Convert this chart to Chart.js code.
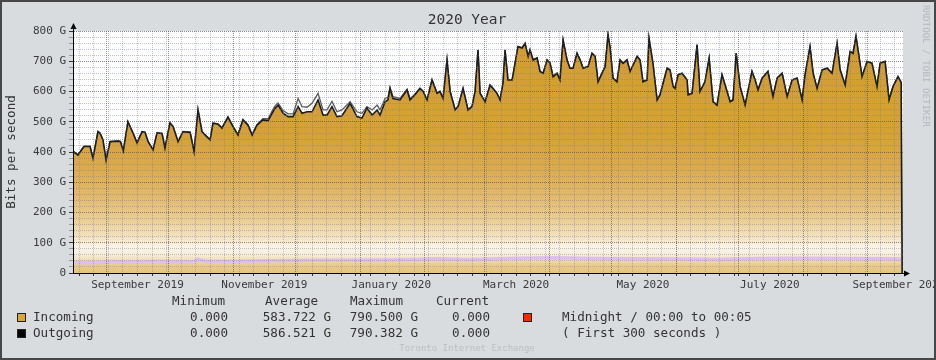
<!DOCTYPE html>
<html lang="en">
<head>
<meta charset="UTF-8">
<title>2020 Year</title>
<script src="https://cdn.jsdelivr.net/npm/chart.js"></script>
<style>
  html, body { margin: 0; padding: 0; background: #d8dcdf; }
  #wrap { width: 936px; height: 360px; }
</style>
</head>
<body>
<div id="wrap"><canvas id="trafficChart" width="936" height="360"></canvas></div>
<script>
// x = days since 16 Aug 2019, values in Gbit/s
const days = [
  0, 2.4, 5.3, 8.2, 9.6, 12.0, 13.0, 14.4, 15.9, 17.8,
  21.6, 22.8, 24.2, 26.4, 28.8, 30.8, 33.2, 34.6, 36.1, 38.5,
  40.4, 42.8, 44.2, 46.6, 48.1, 50.5, 52.9, 56.3, 58.2, 60.1,
  62.0, 64.4, 65.9, 67.3, 69.7, 71.6, 74.5, 76.9, 79.3, 81.7,
  84.1, 86.1, 88.5, 91.3, 93.8, 95.7, 97.1, 98.6, 101.0, 103.4,
  105.8, 108.2, 110.1, 112.5, 114.9, 117.8, 120.2, 122.1, 124.5, 126.9,
  129.3, 133.2, 136.5, 138.9, 141.3, 143.8, 146.2, 147.6, 150.0, 151.4,
  152.4, 153.8, 157.2, 160.6, 162.0, 164.4, 166.8, 168.3, 170.2, 172.6,
  175.0, 176.4, 177.9, 179.8, 181.3, 183.7, 185.1, 187.5, 189.9, 191.8,
  193.3, 194.7, 195.7, 198.1, 200.5, 201.9, 203.8, 205.3, 206.7, 207.7,
  209.1, 211.1, 212.5, 213.9, 215.9, 217.3, 218.8, 219.7, 221.2, 223.1,
  224.5, 226.0, 227.9, 229.3, 230.8, 232.7, 234.1, 235.6, 237.5, 238.9,
  240.4, 242.3, 243.8, 245.2, 247.6, 249.5, 251.0, 252.4, 254.3, 255.8,
  257.2, 258.2, 259.6, 261.5, 263.0, 264.4, 266.3, 267.8, 271.2, 272.6,
  274.0, 276.0, 276.9, 278.8, 280.8, 282.2, 285.6, 287.0, 288.5, 289.4,
  290.9, 292.8, 295.2, 295.7, 297.6, 300.0, 301.4, 303.8, 305.8, 307.7,
  309.6, 312.0, 313.5, 315.9, 317.3, 318.8, 320.7, 323.1, 326.4, 327.9,
  329.3, 331.3, 334.1, 336.5, 338.5, 340.9, 343.3, 345.7, 348.1, 350.5,
  351.9, 354.3, 355.8, 357.7, 360.1, 362.5, 364.9, 367.3, 368.8, 371.2,
  373.6, 375.0, 376.4, 379.3, 381.7, 384.1, 386.5, 388.0, 390.4, 392.3,
  394.2, 396.6, 398.1, 398.6
];

const incoming = [
  402, 390, 418, 418, 379, 467, 462, 440, 373, 434,
  436, 434, 404, 500, 463, 430, 467, 465, 434, 407,
  463, 461, 413, 496, 484, 434, 467, 465, 401, 539,
  467, 450, 440, 495, 492, 479, 515, 484, 456, 506,
  489, 456, 489, 506, 504, 528, 544, 555, 528, 517,
  517, 550, 528, 533, 533, 572, 522, 522, 550, 517,
  520, 561, 517, 512, 545, 522, 539, 522, 566, 572,
  610, 577, 572, 605, 572, 589, 610, 600, 572, 638,
  594, 600, 577, 704, 600, 539, 550, 610, 539, 550,
  600, 737, 594, 566, 621, 610, 594, 572, 627, 737,
  638, 638, 693, 748, 744, 759, 716, 737, 704, 711,
  666, 660, 704, 694, 649, 660, 638, 770, 704, 677,
  677, 726, 704, 677, 682, 726, 716, 632, 660, 682,
  787, 744, 644, 632, 704, 693, 704, 666, 716, 704,
  632, 638, 776, 693, 572, 589, 677, 671, 616, 610,
  655, 660, 638, 589, 594, 754, 600, 632, 710, 566,
  555, 655, 621, 566, 572, 726, 616, 555, 666, 638,
  605, 644, 666, 583, 644, 660, 583, 638, 644, 572,
  655, 748, 660, 610, 671, 677, 660, 759, 671, 621,
  732, 726, 782, 649, 699, 693, 616, 693, 699, 572,
  616, 649, 630, 0
];

const outgoing = [
  403, 391, 419, 419, 380, 468, 463, 441, 374, 435,
  437, 435, 405, 501, 464, 431, 468, 466, 435, 408,
  464, 462, 414, 497, 485, 435, 468, 466, 402, 540,
  468, 451, 441, 496, 493, 480, 516, 486, 458, 508,
  491, 458, 491, 510, 510, 535, 552, 562, 537, 526,
  526, 577, 550, 548, 561, 594, 539, 539, 567, 533,
  539, 566, 533, 528, 550, 539, 555, 539, 577, 580,
  614, 583, 577, 608, 576, 591, 611, 601, 573, 639,
  595, 601, 578, 705, 601, 540, 551, 611, 540, 551,
  601, 738, 595, 567, 622, 611, 595, 573, 628, 738,
  639, 639, 694, 749, 745, 760, 717, 738, 705, 712,
  667, 661, 705, 695, 650, 661, 639, 771, 705, 678,
  678, 727, 705, 678, 683, 727, 717, 633, 661, 683,
  788, 745, 645, 633, 705, 694, 705, 667, 717, 705,
  633, 639, 777, 694, 573, 590, 678, 672, 617, 611,
  656, 661, 639, 590, 595, 755, 601, 633, 711, 567,
  556, 656, 622, 567, 573, 727, 617, 556, 667, 639,
  606, 645, 667, 584, 645, 661, 584, 639, 645, 573,
  656, 749, 661, 611, 672, 678, 661, 760, 672, 622,
  733, 727, 783, 650, 700, 694, 617, 694, 700, 573,
  617, 650, 631, 0
];

// pale lavender band low in the graph
const bandDays = [0, 10, 20, 30, 40, 50, 58, 60, 64, 75, 90, 105, 120, 135, 150, 165, 175, 190, 210, 230, 250, 270, 290, 310, 330, 350, 370, 390, 398];
const band = [35, 34, 37, 36, 38, 37, 36, 45, 38, 38, 40, 41, 42, 42, 43, 45, 47, 44, 48, 50, 48, 47, 46, 45, 48, 49, 48, 47, 46];

const monthStarts = [16, 46, 77, 107, 138, 169, 198, 229, 259, 290, 320, 351, 382];
const labelDays = [31, 92, 153, 213, 274, 335, 397];
const labelNames = ['September 2019', 'November 2019', 'January 2020', 'March 2020', 'May 2020', 'July 2020', 'September 2020'];

const legendHeads = ['Minimum', 'Average', 'Maximum', 'Current'];
const legendRows = [
  ['Incoming', '0.000', '583.722 G', '790.500 G', '0.000'],
  ['Outgoing', '0.000', '586.521 G', '790.382 G', '0.000']
];

const MONO = '"DejaVu Sans Mono", monospace';
const MINOR = 'rgba(115,125,155,0.45)';
const MAJOR = 'rgba(70,70,70,0.6)';

// x ticks: weekly minor lines, monthly major lines, mid-month labels
const xTicks = [];
for (let d = 3; d < 399; d += 7) xTicks.push({ value: d, kind: 'week' });
monthStarts.forEach(d => xTicks.push({ value: d + 0.01, kind: 'month' }));
labelDays.forEach((d, i) => xTicks.push({ value: d, kind: 'label', name: labelNames[i] }));
xTicks.sort((a, b) => a.value - b.value);

const yTicks = [];
for (let v = 0; v <= 800; v += 20) yTicks.push({ value: v });

const fadeStops = [
  [0, 'rgb(230,196,126)'], [30, 'rgb(235,205,146)'], [45, 'rgb(241,223,190)'],
  [62, 'rgb(247,238,218)'], [85, 'rgb(250,244,232)'], [115, 'rgb(244,228,196)'],
  [170, 'rgb(236,207,152)'], [250, 'rgb(226,186,110)'], [350, 'rgb(218,170,76)'],
  [450, 'rgb(214,161,58)'], [800, 'rgb(210,156,50)']
];

function areaGradient(context) {
  const { chart } = context;
  const { chartArea, scales } = chart;
  if (!chartArea) return 'rgb(214,161,58)';
  const y = scales.y;
  const g = chart.ctx.createLinearGradient(0, y.getPixelForValue(0), 0, y.getPixelForValue(800));
  fadeStops.forEach(([v, c]) => g.addColorStop(v / 800, c));
  return g;
}

const pts = (xs, ys) => xs.map((d, i) => ({ x: d, y: ys[i] }));

const frame = {
  id: 'frame',
  beforeDraw(chart) {
    const { ctx, chartArea: a } = chart;
    ctx.save();
    ctx.fillStyle = '#d8dcdf';
    ctx.fillRect(0, 0, chart.width, chart.height);
    ctx.fillStyle = '#ffffff';
    ctx.fillRect(a.left, a.top, a.right - a.left, a.bottom - a.top);
    ctx.restore();
  },
  afterDraw(chart) {
    const { ctx, chartArea: a } = chart;
    ctx.save();
    // axis extensions and arrows
    ctx.strokeStyle = '#000';
    ctx.lineWidth = 1;
    ctx.beginPath();
    ctx.moveTo(a.left + 0.5, a.top);
    ctx.lineTo(a.left + 0.5, a.top - 3);
    ctx.moveTo(a.right, a.bottom + 0.5);
    ctx.lineTo(a.right + 2, a.bottom + 0.5);
    ctx.stroke();
    ctx.fillStyle = '#000';
    ctx.beginPath();
    ctx.moveTo(a.left - 2.5, a.top - 2);
    ctx.lineTo(a.left + 3.5, a.top - 2);
    ctx.lineTo(a.left + 0.5, a.top - 8);
    ctx.closePath();
    ctx.fill();
    ctx.beginPath();
    ctx.moveTo(a.right + 1, a.bottom - 2.5);
    ctx.lineTo(a.right + 1, a.bottom + 3.5);
    ctx.lineTo(a.right + 7, a.bottom + 0.5);
    ctx.closePath();
    ctx.fill();

    // title
    ctx.fillStyle = '#333';
    ctx.textBaseline = 'middle';
    ctx.textAlign = 'center';
    ctx.font = '14.5px ' + MONO;
    ctx.fillText('2020 Year', 467, 20);

    // y axis title
    ctx.save();
    ctx.translate(12, 152);
    ctx.rotate(-Math.PI / 2);
    ctx.font = '12.6px ' + MONO;
    ctx.fillText('Bits per second', 0, 0);
    ctx.restore();

    // side credit
    ctx.save();
    ctx.translate(925, 5);
    ctx.rotate(Math.PI / 2);
    ctx.textAlign = 'left';
    ctx.fillStyle = 'rgb(178,184,190)';
    ctx.font = '9.2px ' + MONO;
    ctx.fillText('RRDTOOL / TOBI OETIKER', 0, 0);
    ctx.restore();

    // legend
    ctx.font = '12.6px ' + MONO;
    ctx.fillStyle = '#333';
    ctx.textAlign = 'left';
    const headX = [172, 265, 350, 436];
    legendHeads.forEach((h, i) => ctx.fillText(h, headX[i], 302));
    const valX = [228, 331, 418, 490];
    const swatch = ['rgb(218,165,58)', '#000000'];
    legendRows.forEach((row, r) => {
      const y = 318 + r * 16;
      ctx.fillStyle = swatch[r];
      ctx.fillRect(17, y - 5, 9, 9);
      ctx.strokeStyle = '#222';
      ctx.strokeRect(17.5, y - 4.5, 8, 8);
      ctx.fillStyle = '#333';
      ctx.textAlign = 'left';
      ctx.fillText(row[0], 33, y);
      ctx.textAlign = 'right';
      row.slice(1).forEach((v, i) => ctx.fillText(v, valX[i], y));
    });
    ctx.fillStyle = 'rgb(250,40,0)';
    ctx.fillRect(523, 313, 9, 9);
    ctx.strokeStyle = '#222';
    ctx.strokeRect(523.5, 313.5, 8, 8);
    ctx.fillStyle = '#333';
    ctx.textAlign = 'left';
    ctx.fillText('Midnight / 00:00 to 00:05', 562, 318);
    ctx.fillText('( First 300 seconds )', 562, 334);

    // footer
    ctx.textAlign = 'center';
    ctx.fillStyle = 'rgb(186,191,196)';
    ctx.font = '9px ' + MONO;
    ctx.fillText('Toronto Internet Exchange', 467, 349);

    // outer frame
    ctx.strokeStyle = '#474747';
    ctx.lineWidth = 2;
    ctx.strokeRect(1, 1, chart.width - 2, chart.height - 2);
    ctx.restore();
  }
};

const xGridColor = (c) => c.tick.kind === 'label' ? 'rgba(0,0,0,0)' : (c.tick.kind === 'month' ? MAJOR : MINOR);
const yGridColor = (c) => c.tick.value % 100 ? MINOR : MAJOR;

const chart = new Chart(document.getElementById('trafficChart'), {
  type: 'line',
  data: {
    datasets: [
      { label: 'Outgoing', data: pts(days, outgoing), borderColor: '#5a5a5a', borderWidth: 1.3, pointRadius: 0, fill: false, order: 2 },
      { label: 'Incoming', data: pts(days, incoming), borderColor: '#1c1c1c', borderWidth: 1.6, backgroundColor: areaGradient, fill: 'origin', pointRadius: 0, order: 1 },
      { label: 'band', data: pts(bandDays, band), borderColor: 'rgb(222,190,236)', borderWidth: 3.5, pointRadius: 0, fill: false, order: 0 }
    ]
  },
  options: {
    responsive: false,
    animation: false,
    devicePixelRatio: 1,
    layout: { padding: { left: 0, top: 31, right: 33, bottom: 0 } },
    elements: { line: { tension: 0 } },
    plugins: { legend: { display: false }, tooltip: { enabled: false } },
    scales: {
      x: {
        type: 'linear', min: 0, max: 399,
        afterBuildTicks: (s) => { s.ticks = xTicks.map(t => Object.assign({}, t)); },
        afterFit: (s) => { s.height = 87; s.paddingLeft = 0; s.paddingRight = 0; },
        grid: { z: 1, color: xGridColor, tickLength: 3, tickColor: (c) => c.tick.kind === 'label' ? 'rgba(0,0,0,0)' : '#333' },
        border: { color: '#000', dash: [1, 1], z: 2 },
        ticks: {
          autoSkip: false, maxRotation: 0, minRotation: 0, padding: 3,
          color: '#3a3a3a', font: { family: MONO, size: 11 },
          callback: (v, i, ticks) => ticks[i].name || ''
        }
      },
      y: {
        min: 0, max: 800,
        afterBuildTicks: (s) => { s.ticks = yTicks.map(t => Object.assign({}, t)); },
        afterFit: (s) => { s.width = 73; s.paddingTop = 0; s.paddingBottom = 0; },
        grid: { z: 1, color: yGridColor, tickLength: 4, tickColor: (c) => c.tick.value % 100 ? '#999' : '#333' },
        border: { color: '#000', dash: [1, 1], z: 2 },
        ticks: {
          autoSkip: false, padding: 3,
          color: '#3a3a3a', font: { family: MONO, size: 11 },
          callback: (v) => v % 100 ? '' : (v ? v + ' G' : '0')
        }
      }
    }
  },
  plugins: [frame]
});
</script>
</body>
</html>
